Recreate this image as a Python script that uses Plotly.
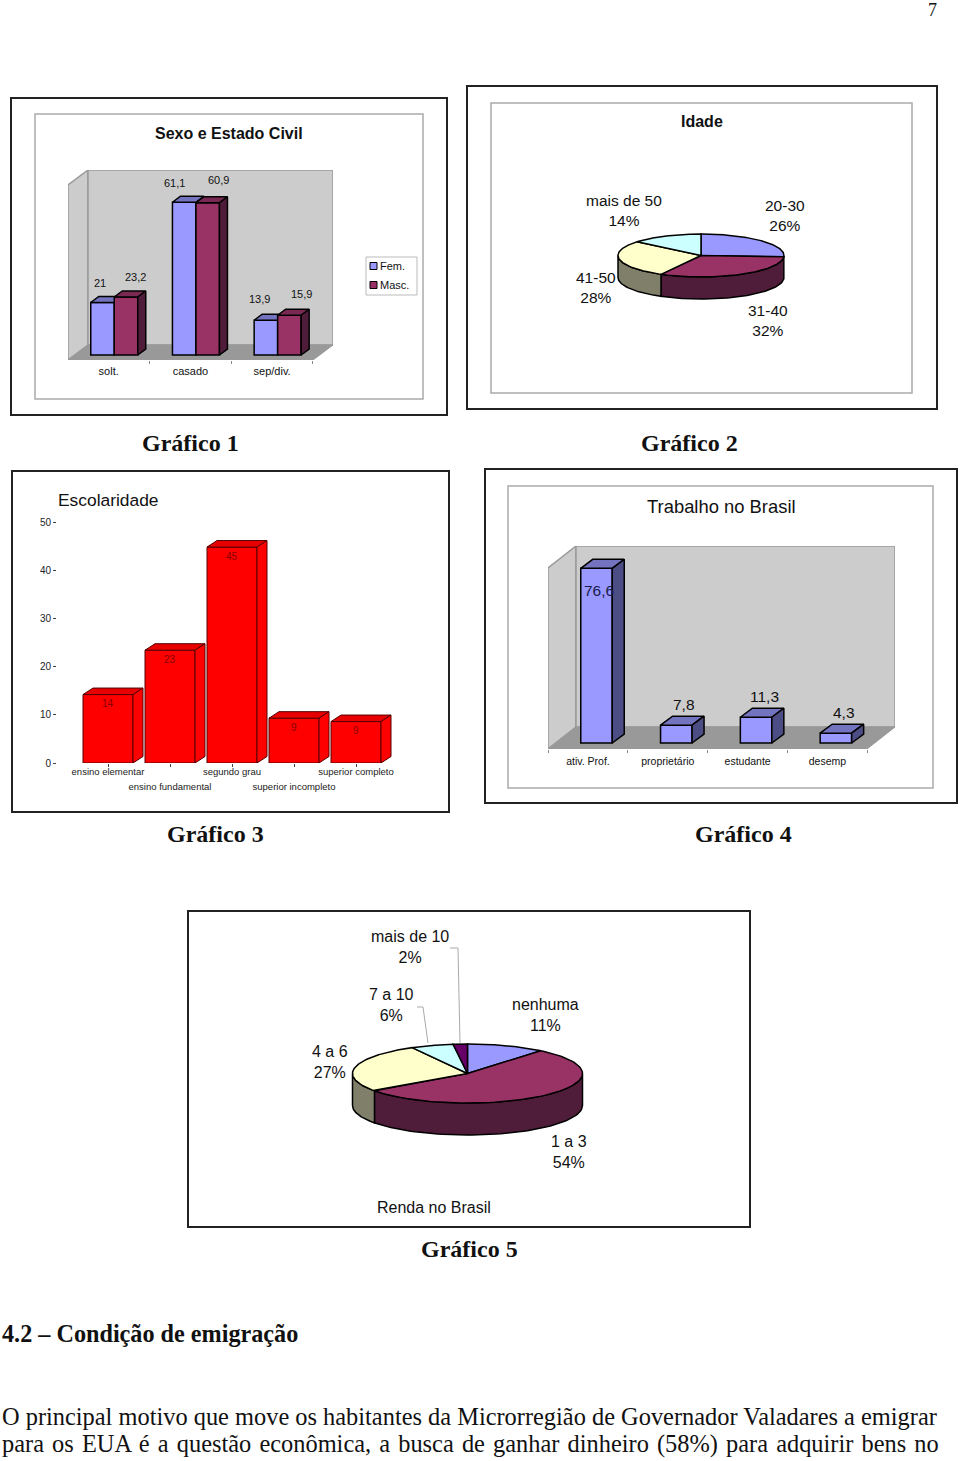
import math
import numpy as np
import plotly.graph_objects as go

W, H = 960, 1461

# ---------- data ----------
civil_categories = ["solt.", "casado", "sep/div."]
civil_fem = [21, 61.1, 13.9]
civil_masc = [23.2, 60.9, 15.9]
civil_fem_labels = ["21", "61,1", "13,9"]
civil_masc_labels = ["23,2", "60,9", "15,9"]

idade_labels = ["20-30", "31-40", "41-50", "mais de 50"]
idade_shares = [26, 32, 28, 14]

escola_categories = ["ensino elementar", "ensino fundamental", "segundo grau",
                     "superior incompleto", "superior completo"]
escola_values = [14.2, 23.4, 44.8, 9.3, 8.6]

trabalho_categories = ["ativ. Prof.", "proprietário", "estudante", "desemp"]
trabalho_values = [76.6, 7.8, 11.3, 4.3]
trabalho_labels = ["76,6", "7,8", "11,3", "4,3"]

renda_labels = ["nenhuma", "1 a 3", "4 a 6", "7 a 10", "mais de 10"]
renda_shares = [11, 54, 27, 6, 2]

# ---------- styles ----------
BLUE, BLUE_TOP, BLUE_SIDE = "#9999FF", "#7373BF", "#4D4D85"
MAROON, MAROON_TOP, MAROON_SIDE = "#993366", "#7A2952", "#4F1C3A"
CREAM, CREAM_SIDE = "#FFFFCC", "#80806A"
CYAN = "#CCFFFF"
PURPLE = "#660066"
WALL, FLOOR, WALL_LINE = "#CCCCCC", "#999999", "#999999"
ARIAL, TIMES = "Liberation Sans", "Liberation Serif"
INK = "#111111"

fig = go.Figure()
shapes, annos = [], []


def px(x):
    return x / W


def py(y):
    return 1 - y / H


def text(x, y, s, size, bold=False, family=ARIAL, anchor="center", color=INK):
    if anchor == "left":
        x -= 2
    annos.append(dict(xref="paper", yref="paper", x=px(x), y=py(y),
                      text=f"<b>{s}</b>" if bold else s, showarrow=False,
                      xanchor=anchor, yanchor="middle", align="center",
                      font=dict(family=family, size=size, color=color)))


def box(x0, y0, x1, y1, color, width):
    shapes.append(dict(type="rect", xref="paper", yref="paper", x0=px(x0), x1=px(x1),
                       y0=py(y1), y1=py(y0), line=dict(color=color, width=width),
                       fillcolor="rgba(0,0,0,0)", layer="below"))


def set_axes(n, left, right, top, bottom, xrange, yrange, **xkw):
    fig.layout[f"xaxis{n}"] = dict(domain=[px(left), px(right)], range=xrange, anchor=f"y{n}",
                                   showgrid=False, zeroline=False, fixedrange=True, **xkw)
    fig.layout[f"yaxis{n}"] = dict(domain=[py(bottom), py(top)], range=yrange, anchor=f"x{n}",
                                   showgrid=False, zeroline=False, fixedrange=True, visible=False)


def poly(n, xs, ys, fill, line="black", lw=1.5, z=1):
    fig.add_trace(go.Scatter(x=list(xs) + [xs[0]], y=list(ys) + [ys[0]], mode="lines",
                             fill="toself", fillcolor=fill, line=dict(color=line, width=lw),
                             xaxis=f"x{n}", yaxis=f"y{n}", zorder=z, hoverinfo="skip"))


def bar(n, x, v, width, fill, z, lw=1.5, line="black"):
    fig.add_trace(go.Bar(x=x, y=v, width=width, marker=dict(color=fill, line=dict(color=line, width=lw)),
                         xaxis=f"x{n}", yaxis=f"y{n}", zorder=z, hoverinfo="skip"))


def tops(n, xs, vs, w, dx, dy, fill, z, lw=1.5, line="black"):
    for x, v in zip(xs, vs):
        poly(n, [x - w / 2, x + w / 2, x + w / 2 + dx, x - w / 2 + dx],
             [v, v, v + dy, v + dy], fill, line, lw, z)


def sides(n, xs, vs, w, dx, dy, fill, z, lw=1.5, line="black"):
    for x, v in zip(xs, vs):
        r = x + w / 2
        poly(n, [r, r + dx, r + dx, r], [0, dy, v + dy, v], fill, line, lw, z)


def room(n, xl, xf, xb, yf, yb, ytop):
    """Left wall, back wall and floor of a 3-D column chart, in axis units."""
    poly(n, [xl, xb, xb, xl], [yf, yb, ytop, ytop - (yb - yf)], WALL, WALL_LINE, 1.5, -3)
    poly(n, [xb, xb + (xf - xl), xb + (xf - xl), xb], [yb, yb, ytop, ytop], WALL, WALL_LINE, 1.5, -3)
    poly(n, [xl, xf, xf + (xb - xl), xb], [yf, yf, yb, yb], FLOOR, FLOOR, 1, -2)


def pie(n, shares, colors, side_colors, depth):
    total = sum(shares)
    edges = np.cumsum([0] + list(shares)) / total * 2 * math.pi
    for a, b, side in zip(edges[:-1], edges[1:], side_colors):
        a2, b2 = max(a, math.pi / 2), min(b, 3 * math.pi / 2)
        if side is None or b2 <= a2:
            continue
        t = np.linspace(a2, b2, 60)
        xs = np.sin(t)
        ys = np.cos(t)
        poly(n, list(xs) + list(xs[::-1]), list(ys) + list(ys[::-1] - depth), side, z=1)
    for a, b, col in zip(edges[:-1], edges[1:], colors):
        t = np.linspace(a, b, 90)
        poly(n, [0] + list(np.sin(t)), [0] + list(np.cos(t)), col, z=2)


# ---------- chart 1 : Sexo e Estado Civil ----------
box(11, 98, 447, 415, "#222222", 2)
box(35, 114, 423, 399, "#AAAAAA", 1.5)
pitch1, unit1, base1, c1 = 81.7, 2.5, 355, 108.7
L1, R1, T1, B1 = 68, 333, 170, 360
xr1 = [(L1 - c1) / pitch1, (R1 - c1) / pitch1]
yr1 = [(base1 - B1) / unit1, (base1 - T1) / unit1]
set_axes(1, L1, R1, T1, B1, xr1, yr1,
         tickmode="array", tickvals=[0, 1, 2], ticktext=civil_categories,
         tickfont=dict(family=ARIAL, size=11, color=INK), ticks="", ticklabelstandoff=3,
         minor=dict(tickmode="array", tickvals=[-0.5, 0.5, 1.5, 2.5], ticks="outside",
                    ticklen=3, tickcolor="#888888", showgrid=False))
room(1, xr1[0], xr1[0] + 245 / pitch1, xr1[1] - 245 / pitch1, yr1[0], yr1[0] + 15 / unit1, yr1[1])
w1 = 23.5 / pitch1
fx = np.arange(3) + (102.5 - c1) / pitch1
mx = np.arange(3) + (126 - c1) / pitch1
d1x, d1y = 8 / pitch1, 6 / unit1
bar(1, list(fx), civil_fem, w1, BLUE, 1)
tops(1, fx, civil_fem, w1, d1x, d1y, BLUE_TOP, 2)
bar(1, list(mx), civil_masc, w1, MAROON, 3)
tops(1, mx, civil_masc, w1, d1x, d1y, MAROON_TOP, 4)
sides(1, mx, civil_masc, w1, d1x, d1y, MAROON_SIDE, 4)
for xs, vs, labs, nudges, ups in [(fx, civil_fem, civil_fem_labels, (-3, -10, -6), (20, 19, 21)),
                                  (mx, civil_masc, civil_masc_labels, (9, 11, 12), (20, 23, 21))]:
    for x, v, lab, nudge, up in zip(xs, vs, labs, nudges, ups):
        annos.append(dict(xref="x1", yref="y1", x=x, y=v, text=lab, showarrow=False, xshift=nudge,
                          yshift=up, font=dict(family=ARIAL, size=11, color=INK)))
text(229, 134, "Sexo e Estado Civil", 16, bold=True)
box(366, 257, 417, 295, "#BBBBBB", 1)
for yy, col, lab in [(266, BLUE, "Fem."), (285, MAROON, "Masc.")]:
    shapes.append(dict(type="rect", xref="paper", yref="paper", x0=px(370), x1=px(377),
                       y0=py(yy + 3.5), y1=py(yy - 3.5), fillcolor=col, line=dict(color="black", width=1)))
    text(380, yy, lab, 11, anchor="left")

# ---------- chart 2 : Idade ----------
box(467, 86, 937, 409, "#222222", 2)
box(491, 103, 912, 393, "#AAAAAA", 1.5)
rx2, ry2, cx2, cy2 = 83, 21.5, 701, 255.5
set_axes(2, cx2 - 1.1 * rx2, cx2 + 1.1 * rx2, cy2 - 1.2 * ry2, cy2 + 2.4 * ry2,
         [-1.1, 1.1], [-2.4, 1.2], visible=False)
pie(2, idade_shares, [BLUE, MAROON, CREAM, CYAN], [None, MAROON_SIDE, CREAM_SIDE, None], 22 / ry2)
text(702, 122, "Idade", 16, bold=True)
for (x, y), lab, share in zip([(785, 215.5), (768, 320.5), (596, 287), (624, 210.5)], idade_labels, idade_shares):
    text(x, y, f"{lab}<br>{share}%", 15.5)

# ---------- chart 3 : Escolaridade ----------
box(12, 471, 449, 812, "#222222", 2)
pitch3, c3 = 62, 108
L3, R3, T3, B3 = 57, 416, 522, 763
xr3 = [(L3 - c3) / pitch3, (R3 - c3) / pitch3]
tick3 = dict(family=ARIAL, size=9.5, color="#222222")
ytick3 = dict(family=ARIAL, size=10, color="#222222")
set_axes(3, L3, R3, T3, B3, xr3, [0, 50],
         tickmode="array", tickvals=[0, 2, 4], ticktext=[escola_categories[i] for i in (0, 2, 4)],
         tickfont=tick3, ticks="outside", ticklen=3, tickcolor="#444444", ticklabelstandoff=-3,
         showline=True, linecolor="#444444", linewidth=1, mirror=True)
fig.layout.yaxis3.update(visible=True, tickmode="array", tickvals=[0, 10, 20, 30, 40, 50],
                         tickfont=ytick3, ticks="outside", ticklen=3, tickcolor="#444444",
                         showline=True, linecolor="#444444", linewidth=1, mirror=True)
fig.layout["xaxis6"] = dict(overlaying="x3", anchor="y3", range=xr3, side="bottom", showgrid=False,
                            zeroline=False, fixedrange=True, tickmode="array", tickvals=[1, 3],
                            ticktext=[escola_categories[i] for i in (1, 3)], tickfont=tick3,
                            ticks="outside", ticklen=3, tickcolor="#444444", ticklabelstandoff=12)
fig.add_trace(go.Scatter(x=[1, 3], y=[None, None], mode="lines", xaxis="x6", yaxis="y3", hoverinfo="skip"))
w3 = 50 / pitch3
x3 = np.arange(5)
d3x, d3y = 10 / pitch3, 6.5 / 4.82
bar(3, list(x3), escola_values, w3, "#FF0000", 1, 1, "#550000")
tops(3, x3, escola_values, w3, d3x, d3y, "#E80000", 2, 1, "#550000")
sides(3, x3, escola_values, w3, d3x, d3y, "#FF0000", 2, 1, "#550000")
for x, v in zip(x3, escola_values):
    annos.append(dict(xref="x3", yref="y3", x=x, y=v, text=str(int(v + 0.5)), showarrow=False, yshift=-9,
                      font=dict(family=ARIAL, size=10, color="#8A0000")))
text(58, 500, "Escolaridade", 17.4, anchor="left")

# ---------- chart 4 : Trabalho no Brasil ----------
box(485, 469, 957, 803, "#222222", 2)
box(508, 486, 933, 788, "#AAAAAA", 1.5)
pitch4, unit4, base4, c4 = 79.8, 2.28, 743, 588
L4, R4, T4, B4 = 548, 895, 546, 749
xr4 = [(L4 - c4) / pitch4, (R4 - c4) / pitch4]
yr4 = [(base4 - B4) / unit4, (base4 - T4) / unit4]
set_axes(4, L4, R4, T4, B4, xr4, yr4,
         tickmode="array", tickvals=[0, 1, 2, 3], ticktext=trabalho_categories,
         tickfont=dict(family=ARIAL, size=10.5, color=INK), ticks="", ticklabelstandoff=4,
         minor=dict(tickmode="array", tickvals=[-0.5, 0.5, 1.5, 2.5, 3.5], ticks="outside",
                    ticklen=3, tickcolor="#888888", showgrid=False))
room(4, xr4[0], xr4[0] + 319 / pitch4, xr4[1] - 319 / pitch4, yr4[0], yr4[0] + 22 / unit4, yr4[1])
w4 = 31.5 / pitch4
x4 = np.arange(4) + 8.5 / pitch4
d4x, d4y = 12 / pitch4, 9 / unit4
bar(4, list(x4), trabalho_values, w4, BLUE, 1)
tops(4, x4, trabalho_values, w4, d4x, d4y, BLUE_TOP, 2)
sides(4, x4, trabalho_values, w4, d4x, d4y, BLUE_SIDE, 3)
for i, (x, v, lab) in enumerate(zip(x4, trabalho_values, trabalho_labels)):
    annos.append(dict(xref="x4", yref="y4", x=x, y=v, text=lab, showarrow=False, xshift=2 if i == 0 else 8,
                      yshift=-22 if i == 0 else 21,
                      font=dict(family=ARIAL, size=15.5, color="#1A1A4D" if i == 0 else INK)))
text(721, 506, "Trabalho no Brasil", 18.4)

# ---------- chart 5 : Renda no Brasil ----------
box(188, 911, 750, 1227, "#222222", 2)
rx5, ry5, cx5, cy5 = 115, 29.5, 467.5, 1073.5
set_axes(5, cx5 - 1.1 * rx5, cx5 + 1.1 * rx5, cy5 - 1.2 * ry5, cy5 + 2.4 * ry5,
         [-1.1, 1.1], [-2.4, 1.2], visible=False)
pie(5, renda_shares, [BLUE, MAROON, CREAM, CYAN, PURPLE], [None, MAROON_SIDE, CREAM_SIDE, None, None], 32 / ry5)
for (x, y), lab, share in zip([(545, 1015), (569, 1152), (330, 1062), (391, 1004.5), (410, 947)],
                              renda_labels, renda_shares):
    text(x, y, f"{lab}<br>{share}%", 16)
text(434, 1207, "Renda no Brasil", 16)
for pts in ([(450, 948), (458, 948), (460, 1043)], [(417, 1007), (423, 1007), (428, 1043)]):
    path = "M " + " L ".join(f"{px(a):.5f},{py(b):.5f}" for a, b in pts)
    shapes.append(dict(type="path", xref="paper", yref="paper", path=path,
                       line=dict(color="#AAAAAA", width=1)))

# ---------- page text ----------
text(932, 10, "7", 18, family=TIMES)
for x, y, s in [(190, 443, "Gráfico 1"), (689, 443, "Gráfico 2"), (215, 834, "Gráfico 3"),
                (743, 834, "Gráfico 4"), (469, 1249, "Gráfico 5")]:
    text(x, y, s, 24, bold=True, family=TIMES)
text(2, 1333, "4.2 – Condição de emigração", 24.2, bold=True, family=TIMES, anchor="left")
text(2, 1416, "O principal motivo que move os habitantes da Microrregião de Governador Valadares a emigrar",
     24.4, family=TIMES, anchor="left")
line2 = "para os EUA é a questão econômica, a busca de ganhar dinheiro (58%) para adquirir bens no"
text(2, 1444, line2.replace(" ", " \u200a"), 24.4, family=TIMES, anchor="left")

fig.update_layout(width=W, height=H, margin=dict(l=0, r=0, t=0, b=0, pad=0, autoexpand=False), autosize=False,
                  paper_bgcolor="white", plot_bgcolor="rgba(0,0,0,0)", showlegend=False,
                  barmode="overlay", shapes=shapes, annotations=annos,
                  font=dict(family=ARIAL, color=INK))
fig.write_html("out.html", config=dict(displayModeBar=False),
               post_script="document.body.style.margin='0';")
